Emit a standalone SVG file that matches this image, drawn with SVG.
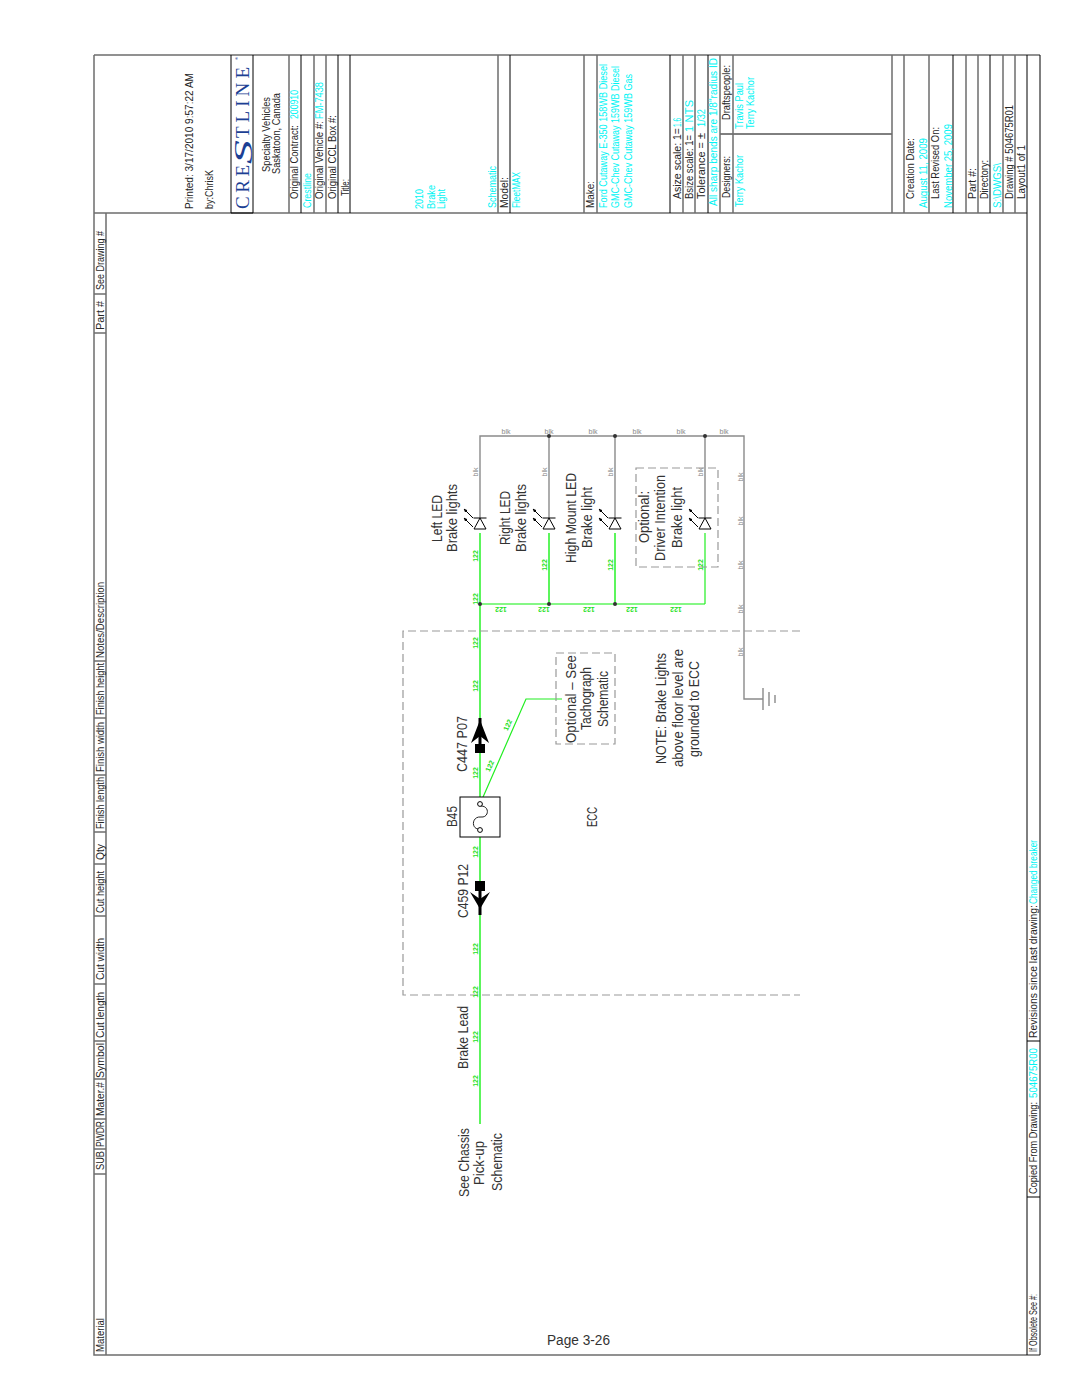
<svg xmlns="http://www.w3.org/2000/svg" width="1071" height="1386" viewBox="0 0 1071 1386">
<style>
text{font-family:"Liberation Sans Narrow","Liberation Sans",Arial,sans-serif}
.s{font-size:11px;fill:#262626}
.c{font-size:11px;fill:#00f4f4}
.m{font-size:14px;fill:#333}
.g{font-size:7px;fill:#22e022;font-weight:bold;text-anchor:middle}
.b{font-size:7px;fill:#888;text-anchor:middle}
.l{font-family:"Liberation Serif",serif;font-size:19px;fill:#1c3f94}
.k{stroke:#000;stroke-width:1;fill:none}
.h{stroke:#6e6e6e;stroke-width:1.5;fill:none}
.w{stroke:#5cf55c;stroke-width:2;fill:none}
.wt{stroke:#22ee22;stroke-width:1.2;fill:none}
.e{stroke:#8a8a8a;stroke-width:1.4;fill:none}
.d{stroke:#999;stroke-width:1.2;fill:none;stroke-dasharray:8 4}
.dot{fill:#333}
.led{stroke:#000;stroke-width:1;fill:#fff}
</style>
<defs>
<marker id="ah" viewBox="0 0 6 6" refX="5" refY="3" markerWidth="4" markerHeight="4" orient="auto"><path d="M0,0.5L6,3L0,5.5Z" fill="#000"/></marker>
<g id="led">
<path class="led" d="M0,-5L-6,6H6Z"/>
<path class="k" d="M-6.5,-5H6.5"/>
<path class="k" d="M-7,-5L-16,-14" marker-end="url(#ah)"/>
<path class="k" d="M-7,4L-16,-5" marker-end="url(#ah)"/>
</g>
</defs>
<rect width="1071" height="1386" fill="#fff"/>
<g id="frame">
<path class="h" d="M94,55H1040M94,55V1355H1040M94,213H1027M106,213V1355"/>
<path class="k" d="M1040,55V1355M1027,213V1355M720,134H892"/>
<path class="k" d="M231,55V213M253,55V213M301,55V213M338,55V213M350,55V213M510,55V213M670,55V213M708,55V213M953,55V213M990,55V213M1027,55V213M231,213H253"/>
<path class="h" d="M289,55V213M314,55V213M326,55V213M498,55V213M584,55V213M597,55V213M683,55V213M695,55V213M720,55V213M733,55V213M892,55V213M904,55V213M929,55V213M966,55V213M978,55V213M1003,55V213M1015,55V213"/>
<path class="h" d="M94,294H106M94,333H106M94,661H106M94,718H106M94,775H106M94,832H106M94,864H106M94,916H106M94,984H106M94,1041H106M94,1079H106M94,1119H106M94,1149H106M94,1174H106"/>
<path class="k" d="M1027,1041H1040M1027,1197H1040"/>
</g>
<g id="table-headers">
<text class="s" transform="translate(104,290) rotate(-90)" textLength="59" lengthAdjust="spacingAndGlyphs">See Drawing #</text>
<text class="s" transform="translate(104,330) rotate(-90)" textLength="29" lengthAdjust="spacingAndGlyphs">Part #</text>
<text class="s" transform="translate(104,658) rotate(-90)" textLength="76" lengthAdjust="spacingAndGlyphs">Notes/Description</text>
<text class="s" transform="translate(104,715) rotate(-90)" textLength="52" lengthAdjust="spacingAndGlyphs">Finish height</text>
<text class="s" transform="translate(104,772) rotate(-90)" textLength="50" lengthAdjust="spacingAndGlyphs">Finish width</text>
<text class="s" transform="translate(104,829) rotate(-90)" textLength="52" lengthAdjust="spacingAndGlyphs">Finish length</text>
<text class="s" transform="translate(104,860) rotate(-90)" textLength="16" lengthAdjust="spacingAndGlyphs">Qty</text>
<text class="s" transform="translate(104,913) rotate(-90)" textLength="42" lengthAdjust="spacingAndGlyphs">Cut height</text>
<text class="s" transform="translate(104,980) rotate(-90)" textLength="42" lengthAdjust="spacingAndGlyphs">Cut width</text>
<text class="s" transform="translate(104,1038) rotate(-90)" textLength="46" lengthAdjust="spacingAndGlyphs">Cut length</text>
<text class="s" transform="translate(104,1078) rotate(-90)" textLength="35" lengthAdjust="spacingAndGlyphs">Symbol</text>
<text class="s" transform="translate(104,1116) rotate(-90)" textLength="34" lengthAdjust="spacingAndGlyphs">Mater.#</text>
<text class="s" transform="translate(104,1147) rotate(-90)" textLength="26" lengthAdjust="spacingAndGlyphs">PWDR</text>
<text class="s" transform="translate(104,1170) rotate(-90)" textLength="19" lengthAdjust="spacingAndGlyphs">SUB</text>
<text class="s" transform="translate(104,1352) rotate(-90)" textLength="34" lengthAdjust="spacingAndGlyphs">Material</text>
</g>
<g id="revision-strip">
<text class="s" transform="translate(1037,1352) rotate(-90)" textLength="58" lengthAdjust="spacingAndGlyphs">If Obsolete See #:</text>
<text class="s" transform="translate(1037,1194) rotate(-90)" textLength="92" lengthAdjust="spacingAndGlyphs">Copied From Drawing:</text>
<text class="c" transform="translate(1037,1098) rotate(-90)" textLength="50" lengthAdjust="spacingAndGlyphs">504675R00</text>
<text class="s" transform="translate(1037,1038) rotate(-90)" textLength="133" lengthAdjust="spacingAndGlyphs">Revisions since last drawing:</text>
<text class="c" transform="translate(1037,904) rotate(-90)" textLength="64" lengthAdjust="spacingAndGlyphs">Changed breaker</text>
</g>
<g id="title-block">
<text class="s" transform="translate(193,209) rotate(-90)" textLength="136" lengthAdjust="spacingAndGlyphs">Printed: 3/17/2010  9:57:22 AM</text>
<text class="s" transform="translate(213,209) rotate(-90)" textLength="39" lengthAdjust="spacingAndGlyphs">by:ChrisK</text>
<text class="l" transform="translate(249,209) rotate(-90)" textLength="44" lengthAdjust="spacing">CRE</text>
<text class="l" transform="translate(252,164) rotate(-90)" textLength="24" lengthAdjust="spacingAndGlyphs" style="font-size:26px;font-style:italic">S</text>
<text class="l" transform="translate(249,138) rotate(-90)" textLength="71" lengthAdjust="spacing">TLINE</text>
<text transform="translate(238,60) rotate(-90)" style="font-size:4px;fill:#1c3f94">®</text>
<text class="s" transform="translate(270,172) rotate(-90)" textLength="75" lengthAdjust="spacingAndGlyphs">Specialty Vehicles</text>
<text class="s" transform="translate(280,174) rotate(-90)" textLength="81" lengthAdjust="spacingAndGlyphs">Saskatoon, Canada</text>
<text class="s" transform="translate(298,199) rotate(-90)" textLength="74" lengthAdjust="spacingAndGlyphs">Original Contract:</text>
<text class="c" transform="translate(298,119) rotate(-90)" textLength="29" lengthAdjust="spacingAndGlyphs">200910</text>
<text class="c" transform="translate(311,208) rotate(-90)" textLength="35" lengthAdjust="spacingAndGlyphs">Crestline</text>
<text class="s" transform="translate(323,199) rotate(-90)" textLength="78" lengthAdjust="spacingAndGlyphs">Original Vehicle #:</text>
<text class="c" transform="translate(323,119) rotate(-90)" textLength="37" lengthAdjust="spacingAndGlyphs">FM-7438</text>
<text class="s" transform="translate(336,199) rotate(-90)" textLength="84" lengthAdjust="spacingAndGlyphs">Original CCL Box #:</text>
<text class="s" transform="translate(349,196) rotate(-90)" textLength="17" lengthAdjust="spacingAndGlyphs">Title:</text>
<text class="c" transform="translate(423,209) rotate(-90)" textLength="20" lengthAdjust="spacingAndGlyphs">2010</text>
<text class="c" transform="translate(435,209) rotate(-90)" textLength="24" lengthAdjust="spacingAndGlyphs">Brake</text>
<text class="c" transform="translate(445,209) rotate(-90)" textLength="20" lengthAdjust="spacingAndGlyphs">Light</text>
<text class="c" transform="translate(496,208) rotate(-90)" textLength="42" lengthAdjust="spacingAndGlyphs">Schematic</text>
<text class="s" transform="translate(508,208) rotate(-90)" textLength="31" lengthAdjust="spacingAndGlyphs">Model:</text>
<text class="c" transform="translate(520,208) rotate(-90)" textLength="36" lengthAdjust="spacingAndGlyphs">FleetMAX</text>
<text class="s" transform="translate(594,208) rotate(-90)" textLength="27" lengthAdjust="spacingAndGlyphs">Make:</text>
<text class="c" transform="translate(607,208) rotate(-90)" textLength="144" lengthAdjust="spacingAndGlyphs">Ford Cutaway E-350 158WB Diesel</text>
<text class="c" transform="translate(619,208) rotate(-90)" textLength="142" lengthAdjust="spacingAndGlyphs">GMC-Chev Cutaway 159WB Diesel</text>
<text class="c" transform="translate(632,208) rotate(-90)" textLength="134" lengthAdjust="spacingAndGlyphs">GMC-Chev Cutaway 159WB Gas</text>
<text class="s" transform="translate(681,199) rotate(-90)" textLength="71" lengthAdjust="spacingAndGlyphs">Asize scale:  1=</text>
<text class="c" transform="translate(681,127) rotate(-90)" textLength="9" lengthAdjust="spacingAndGlyphs">1.6</text>
<text class="s" transform="translate(693,199) rotate(-90)" textLength="64" lengthAdjust="spacingAndGlyphs">Bsize scale:  1=</text>
<text class="c" transform="translate(693,132) rotate(-90)" textLength="32" lengthAdjust="spacing">1  NTS</text>
<text class="s" transform="translate(705,199) rotate(-90)" textLength="66" lengthAdjust="spacingAndGlyphs">Tolerance = ±</text>
<text class="c" transform="translate(705,127) rotate(-90)" textLength="18" lengthAdjust="spacingAndGlyphs">1/32</text>
<text class="c" transform="translate(717,206) rotate(-90)" textLength="148" lengthAdjust="spacingAndGlyphs">All sharp bends are 1/8"radius ID</text>
<text class="s" transform="translate(730,120) rotate(-90)" textLength="55" lengthAdjust="spacingAndGlyphs">Draftspeople:</text>
<text class="s" transform="translate(730,198) rotate(-90)" textLength="42" lengthAdjust="spacingAndGlyphs">Designers:</text>
<text class="c" transform="translate(743,207) rotate(-90)" textLength="52" lengthAdjust="spacingAndGlyphs">Terry Kachor</text>
<text class="c" transform="translate(743,129) rotate(-90)" textLength="46" lengthAdjust="spacingAndGlyphs">Travis Paul</text>
<text class="c" transform="translate(754,129) rotate(-90)" textLength="52" lengthAdjust="spacingAndGlyphs">Terry Kachor</text>
<text class="s" transform="translate(914,199) rotate(-90)" textLength="61" lengthAdjust="spacingAndGlyphs">Creation Date:</text>
<text class="c" transform="translate(927,208) rotate(-90)" textLength="70" lengthAdjust="spacingAndGlyphs">August 11, 2009</text>
<text class="s" transform="translate(939,199) rotate(-90)" textLength="72" lengthAdjust="spacingAndGlyphs">Last Revised On:</text>
<text class="c" transform="translate(952,208) rotate(-90)" textLength="84" lengthAdjust="spacingAndGlyphs">November 25, 2009</text>
<text class="s" transform="translate(976,199) rotate(-90)" textLength="31" lengthAdjust="spacingAndGlyphs">Part #:</text>
<text class="s" transform="translate(988,199) rotate(-90)" textLength="39" lengthAdjust="spacingAndGlyphs">Directory:</text>
<text class="c" transform="translate(1001,208) rotate(-90)" textLength="45" lengthAdjust="spacingAndGlyphs">S:\DWGS\</text>
<text class="s" transform="translate(1013,199) rotate(-90)" textLength="94" lengthAdjust="spacingAndGlyphs">Drawing # 504675R01</text>
<text class="s" transform="translate(1025,199) rotate(-90)" textLength="54" lengthAdjust="spacingAndGlyphs">Layout1 of 1</text>
</g>
<g id="connectors">
<path class="e" d="M480,518V436H744V699H763M549,518V436M615,518V436M705,518V436"/>
<path class="w" d="M480,1124V533M549,604V533M615,604V533"/>
<path class="w" d="M480,604H705" style="stroke-width:1.5"/>
<path class="wt" d="M705,604V533M480,804L526,699H562"/>
<path d="M480,718V745M480,884V915" stroke="#000" stroke-width="3" fill="none"/>
</g>
<g id="ecc-boundary"><path class="d" d="M800,631H403V995H800"/></g>
<g id="ground"><path class="e" d="M763,688V710M769,692V706M775,695V703"/></g>
<g id="led-left"><use href="#led" x="480" y="523"/>
<text class="m" transform="translate(442,542) rotate(-90)" textLength="47" lengthAdjust="spacingAndGlyphs">Left LED</text>
<text class="m" transform="translate(457,552) rotate(-90)" textLength="68" lengthAdjust="spacingAndGlyphs">Brake lights</text></g>
<g id="led-right"><use href="#led" x="549" y="523"/>
<text class="m" transform="translate(510,545) rotate(-90)" textLength="54" lengthAdjust="spacingAndGlyphs">Right LED</text>
<text class="m" transform="translate(526,552) rotate(-90)" textLength="68" lengthAdjust="spacingAndGlyphs">Brake lights</text></g>
<g id="led-high"><use href="#led" x="615" y="523"/>
<text class="m" transform="translate(576,563) rotate(-90)" textLength="90" lengthAdjust="spacingAndGlyphs">High Mount LED</text>
<text class="m" transform="translate(592,548) rotate(-90)" textLength="61" lengthAdjust="spacingAndGlyphs">Brake light</text></g>
<g id="led-optional"><rect class="d" x="636" y="468" width="82" height="99"/><use href="#led" x="705" y="523"/>
<text class="m" transform="translate(649,543) rotate(-90)" textLength="52" lengthAdjust="spacingAndGlyphs">Optional:</text>
<text class="m" transform="translate(665,561) rotate(-90)" textLength="86" lengthAdjust="spacingAndGlyphs">Driver Intention</text>
<text class="m" transform="translate(682,548) rotate(-90)" textLength="61" lengthAdjust="spacingAndGlyphs">Brake light</text></g>
<g id="c447"><path d="M480,720L489,743L480,736L471,743Z" fill="#000"/><rect x="475" y="744" width="10" height="9" fill="#000"/>
<text class="m" transform="translate(467,772) rotate(-90)" textLength="56" lengthAdjust="spacingAndGlyphs">C447 P07</text></g>
<g id="c459"><path d="M480,909L490,892L480,899L470,892Z" fill="#000"/><rect x="475" y="881" width="10" height="10" fill="#000"/>
<text class="m" transform="translate(468,918) rotate(-90)" textLength="54" lengthAdjust="spacingAndGlyphs">C459 P12</text></g>
<g id="b45"><rect x="460" y="797" width="40" height="40" fill="#fff" stroke="#000" stroke-width="1"/>
<circle class="k" cx="480" cy="804" r="2.4"/><circle class="k" cx="480" cy="830" r="2.4"/>
<path class="k" d="M481,806C490,806 489,818 481,817C472,816 471,828 478,829" style="stroke:#222"/>
<text class="m" transform="translate(457,827) rotate(-90)" textLength="21" lengthAdjust="spacingAndGlyphs">B45</text></g>
<g id="tacho"><rect class="d" x="556" y="653" width="59" height="91"/>
<text class="m" transform="translate(576,743) rotate(-90)" textLength="88" lengthAdjust="spacingAndGlyphs">Optional – See</text>
<text class="m" transform="translate(591,730) rotate(-90)" textLength="63" lengthAdjust="spacingAndGlyphs">Tachograph</text>
<text class="m" transform="translate(608,727) rotate(-90)" textLength="56" lengthAdjust="spacingAndGlyphs">Schematic</text></g>
<g id="labels">
<text class="m" transform="translate(597,827) rotate(-90)" textLength="20" lengthAdjust="spacingAndGlyphs">ECC</text>
<text class="m" transform="translate(666,764) rotate(-90)" textLength="111" lengthAdjust="spacingAndGlyphs">NOTE: Brake Lights</text>
<text class="m" transform="translate(683,767) rotate(-90)" textLength="118" lengthAdjust="spacingAndGlyphs">above floor level are</text>
<text class="m" transform="translate(699,757) rotate(-90)" textLength="96" lengthAdjust="spacingAndGlyphs">grounded to ECC</text>
<text class="m" transform="translate(468,1069) rotate(-90)" textLength="63" lengthAdjust="spacingAndGlyphs">Brake Lead</text>
<text class="m" transform="translate(469,1197) rotate(-90)" textLength="69" lengthAdjust="spacingAndGlyphs">See Chassis</text>
<text class="m" transform="translate(484,1185) rotate(-90)" textLength="44" lengthAdjust="spacingAndGlyphs">Pick-up</text>
<text class="m" transform="translate(502,1191) rotate(-90)" textLength="58" lengthAdjust="spacingAndGlyphs">Schematic</text>
<text class="m" x="547" y="1345" textLength="63" lengthAdjust="spacingAndGlyphs">Page 3-26</text>
</g>
<g id="wire-labels">
<text class="g" transform="translate(478,556) rotate(-90)">122</text>
<text class="g" transform="translate(478,599) rotate(-90)">122</text>
<text class="g" transform="translate(547,565) rotate(-90)">122</text>
<text class="g" transform="translate(613,565) rotate(-90)">122</text>
<text class="g" transform="translate(703,565) rotate(-90)">122</text>
<text class="g" transform="translate(478,643) rotate(-90)">122</text>
<text class="g" transform="translate(478,686) rotate(-90)">122</text>
<text class="g" transform="translate(478,773) rotate(-90)">122</text>
<text class="g" transform="translate(478,852) rotate(-90)">122</text>
<text class="g" transform="translate(478,949) rotate(-90)">122</text>
<text class="g" transform="translate(478,992) rotate(-90)">122</text>
<text class="g" transform="translate(478,1037) rotate(-90)">122</text>
<text class="g" transform="translate(478,1081) rotate(-90)">122</text>
<text class="g" transform="translate(501,607) rotate(180)">122</text>
<text class="g" transform="translate(544,607) rotate(180)">122</text>
<text class="g" transform="translate(589,607) rotate(180)">122</text>
<text class="g" transform="translate(632,607) rotate(180)">122</text>
<text class="g" transform="translate(676,607) rotate(180)">122</text>
<text class="g" transform="translate(510,726) rotate(-66)">122</text>
<text class="g" transform="translate(492,767) rotate(-66)">122</text>
<text class="b" x="506" y="434">blk</text><text class="b" x="549" y="434">blk</text><text class="b" x="593" y="434">blk</text><text class="b" x="637" y="434">blk</text><text class="b" x="681" y="434">blk</text><text class="b" x="724" y="434">blk</text>
<text class="b" transform="translate(478,472) rotate(-90)">blk</text>
<text class="b" transform="translate(547,472) rotate(-90)">blk</text>
<text class="b" transform="translate(613,472) rotate(-90)">blk</text>
<text class="b" transform="translate(703,472) rotate(-90)">blk</text>
<text class="b" transform="translate(743,477) rotate(-90)">blk</text>
<text class="b" transform="translate(743,521) rotate(-90)">blk</text>
<text class="b" transform="translate(743,565) rotate(-90)">blk</text>
<text class="b" transform="translate(743,609) rotate(-90)">blk</text>
<text class="b" transform="translate(743,652) rotate(-90)">blk</text>
</g>
<g id="junctions">
<circle class="dot" cx="549" cy="436" r="2"/><circle class="dot" cx="615" cy="436" r="2"/><circle class="dot" cx="705" cy="436" r="2"/>
<circle class="dot" cx="480" cy="604" r="2"/><circle class="dot" cx="549" cy="604" r="2"/><circle class="dot" cx="615" cy="604" r="2"/>
</g>
</svg>
